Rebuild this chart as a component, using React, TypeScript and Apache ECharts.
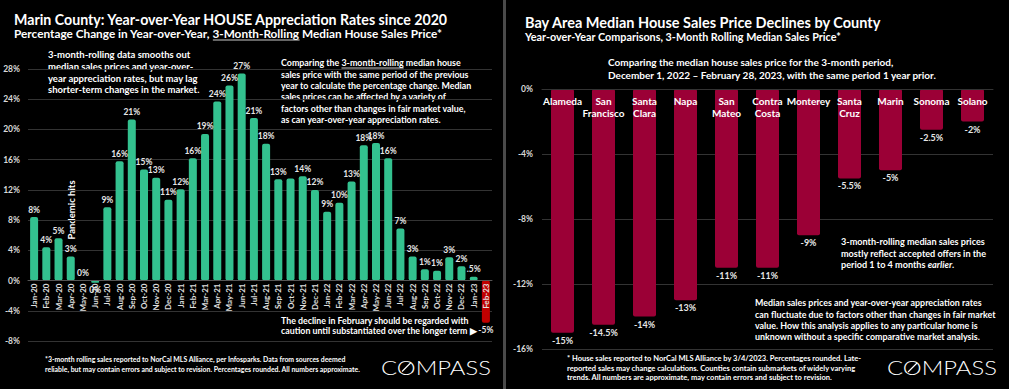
import React, { useEffect, useRef } from "react";
import * as echarts from "echarts";

const months = [
  "Jan-20","Feb-20","Mar-20","Apr-20","May-20","Jun-20","Jul-20","Aug-20","Sep-20","Oct-20","Nov-20","Dec-20",
  "Jan-21","Feb-21","Mar-21","Apr-21","May-21","Jun-21","Jul-21","Aug-21","Sep-21","Oct-21","Nov-21","Dec-21",
  "Jan-22","Feb-22","Mar-22","Apr-22","May-22","Jun-22","Jul-22","Aug-22","Sep-22","Oct-22","Nov-22","Dec-22",
  "Jan-23","Feb-23",
];
const marinYoY = [
  8.4, 4.4, 5.6, 3.2, 0, -0.3, 9.7, 15.8, 21.3, 14.7, 13.6, 10.7,
  12.1, 16.2, 19.4, 23.7, 25.8, 27.4, 21.5, 18.1, 13.4, 13.5, 13.8, 12.0,
  9.1, 10.3, 13.1, 17.9, 18.2, 16.2, 6.9, 3.2, 1.5, 1.3, 3.1, 1.9,
  0.5, -5.6,
];
const marinLabels = [
  "8%","4%","5%","3%","0%","0%","9%","16%","21%","15%","13%","11%",
  "12%","16%","19%","24%","26%","27%","21%","18%","13%","","14%","12%",
  "9%","10%","13%","18%","18%","16%","7%","3%","1%","1%","3%","2%",
  ".5%","-5%",
];
const counties = [
  "Alameda","San\nFrancisco","Santa\nClara","Napa","San\nMateo","Contra\nCosta",
  "Monterey","Santa\nCruz","Marin","Sonoma","Solano",
];
const countyChange = [-15, -14.5, -14, -13, -11, -11, -9, -5.5, -5, -2.5, -2];
const countyLabels = ["-15%","-14.5%","-14%","-13%","-11%","-11%","-9%","-5.5%","-5%","-2.5%","-2%"];

const FONT = "Lato, 'Open Sans', sans-serif";
const GREEN = "#33c18f";
const RED = "#c00000";
const CRIMSON = "#9b0036";
const GRID = "#333333";
const LEFT_GRID = { left: 28, right: 517, top: 69, bottom: 48 };
const RIGHT_GRID = { left: 542, right: 16, top: 89, bottom: 40 };

export default function App() {
  const ref = useRef<HTMLDivElement>(null);
  useEffect(() => {
    document.body.style.margin = "0";
    document.body.style.background = "#000";
    const chart = echarts.init(ref.current!, null, { renderer: "svg" });
    const cv = document.createElement("canvas").getContext("2d")!;
    const mw = (t: string, size: number, weight = "bold") => {
      cv.font = `${weight} ${size}px ${FONT}`;
      return cv.measureText(t).width;
    };

    const txt = (x: number, y: number, text: string, size: number, extra: any = {}) => ({
      type: "text",
      x,
      y,
      silent: true,
      style: {
        text,
        fill: "#ffffff",
        font: `bold ${size}px ${FONT}`,
        verticalAlign: "middle",
        align: "left",
        ...extra,
      },
    });
    const lines = (x: number, y0: number, step: number, arr: string[], size: number) =>
      arr.map((t, i) => txt(x, y0 + i * step, t, size));

    const uline = (x: number, y: number, prefix: string, word: string, size: number) => {
      const x1 = x + mw(prefix, size);
      const x2 = x1 + mw(word, size);
      return {
        type: "line",
        silent: true,
        shape: { x1, y1: y, x2, y2: y },
        style: { stroke: "#ffffff", lineWidth: 0.8 },
      };
    };

    const compass = (x: number, w: number, yc: number) => {
      const size = 20;
      const natural = mw("COMPASS", size, "300");
      const sx = w / natural;
      const cW = mw("C", size, "300") * sx;
      const oW = mw("O", size, "300") * sx;
      const ox = x + cW + oW / 2;
      return [
        {
          type: "text",
          x,
          y: yc,
          scaleX: sx,
          silent: true,
          style: {
            text: "COMPASS",
            fill: "#ffffff",
            font: `300 ${size}px ${FONT}`,
            verticalAlign: "middle",
            align: "left",
          },
        },
        {
          type: "line",
          silent: true,
          shape: { x1: ox - 4.5, y1: yc + 4.5, x2: ox + 4.5, y2: yc - 4.5 },
          style: { stroke: "#ffffff", lineWidth: 1.2 },
        },
      ];
    };

    const sub1Prefix = "Percentage Change in Year-over-Year, ";
    const box2Prefix = "Comparing the ";

    const graphic: any[] = [
      { type: "rect", silent: true, shape: { x: 503, y: 0, width: 3, height: 389 }, style: { fill: "#4a4a4a" } },
      txt(14, 19, "Marin County: Year-over-Year HOUSE Appreciation Rates since 2020", 14.2),
      txt(14, 33, sub1Prefix + "3-Month-Rolling Median House Sales Price*", 11.8),
      uline(14, 40, sub1Prefix, "3-Month-Rolling", 11.8),
      ...lines(48, 54.5, 11.8, [
        "3-month-rolling data smooths out",
        "median sales prices and year-over-",
        "year appreciation rates, but may lag",
        "shorter-term changes in the market.",
      ], 9.5),
      ...lines(281, 62.7, 11.4, [
        box2Prefix + "3-month-rolling median house",
        "sales price with the same period of the previous",
        "year to calculate the percentage change. Median",
        "sales prices can be affected by a variety of",
        "factors other than changes in fair market value,",
        "as can year-over-year appreciation rates.",
      ], 8.9),
      uline(281, 68, box2Prefix, "3-month-rolling", 8.9),
      {
        type: "text",
        x: 71.5,
        y: 210,
        rotation: Math.PI / 2,
        silent: true,
        style: {
          text: "Pandemic hits",
          fill: "#ffffff",
          font: `bold 9.5px ${FONT}`,
          align: "center",
          verticalAlign: "middle",
        },
      },
      ...lines(281, 320, 10.5, [
        "The decline in February should be regarded with",
        "caution until substantiated over the longer term \u25B6",
      ], 8.8),
      ...lines(45, 359, 9.5, [
        "*3-month rolling sales reported to NorCal MLS Alliance, per Infosparks. Data from sources deemed",
        "reliable, but may contain errors and subject to revision. Percentages rounded. All numbers approximate.",
      ], 6.9),
      ...compass(381, 110, 367),

      txt(525, 22.3, "Bay Area Median House Sales Price Declines by County", 14.5),
      txt(525, 36, "Year-over-Year Comparisons, 3-Month Rolling Median Sales Price*", 10.8),
      ...lines(608, 62.3, 12.7, [
        "Comparing the median house sales price for the 3-month period,",
        "December 1, 2022 \u2013 February 28, 2023, with the same period 1 year prior.",
      ], 10),
      ...lines(841, 241.5, 11.5, [
        "3-month-rolling median sales prices",
        "mostly reflect accepted offers in the",
      ], 9.1),
      {
        type: "text",
        x: 841,
        y: 264.5,
        silent: true,
        style: {
          text: "{n|period 1 to 4 months }{i|earlier}{n|.}",
          verticalAlign: "middle",
          align: "left",
          rich: {
            n: { fill: "#ffffff", font: `bold 9.1px ${FONT}` },
            i: { fill: "#ffffff", font: `italic bold 9.1px ${FONT}` },
          },
        },
      },
      ...lines(755, 302.7, 11.4, [
        "Median sales prices and year-over-year appreciation rates",
        "can fluctuate due to factors other than changes in fair market",
        "value. How this analysis applies to any particular home is",
        "unknown without a specific comparative market analysis.",
      ], 8.9),
      ...lines(567, 358.7, 9.5, [
        "* House sales reported to NorCal MLS Alliance by 3/4/2023. Percentages rounded. Late-",
        "reported sales may change calculations. Counties contain submarkets of widely varying",
        "trends. All numbers are approximate, may contain errors and subject to revision.",
      ], 7.5),
      ...compass(887, 110, 367.5),
    ];

    chart.setOption({
      animation: false,
      backgroundColor: "#000000",
      grid: [LEFT_GRID, RIGHT_GRID],
      xAxis: [
        {
          gridIndex: 0,
          type: "category",
          data: months,
          z: 10,
          axisLine: { onZero: false, lineStyle: { color: "#555555" } },
          axisTick: { show: false },
          axisLabel: {
            interval: 0,
            rotate: 90,
            color: "#e0e0e0",
            fontFamily: FONT,
            fontWeight: "bold",
            fontSize: 8,
            margin: 3,
          },
        },
        {
          gridIndex: 1,
          type: "category",
          data: counties,
          z: 10,
          axisLine: { onZero: false, lineStyle: { color: GRID } },
          axisTick: { show: false },
          axisLabel: {
            interval: 0,
            color: "#ffffff",
            fontFamily: FONT,
            fontWeight: "bold",
            fontSize: 10,
            lineHeight: 12,
            margin: 6,
          },
        },
      ],
      yAxis: [
        {
          gridIndex: 0,
          type: "value",
          min: -8,
          max: 28,
          interval: 4,
          axisLine: { show: false },
          axisTick: { show: false },
          splitLine: { lineStyle: { color: GRID } },
          axisLabel: {
            formatter: "{value}%",
            color: "#d9d9d9",
            fontFamily: FONT,
            fontWeight: "bold",
            fontSize: 8.5,
            margin: 8,
          },
        },
        {
          gridIndex: 1,
          type: "value",
          min: -16,
          max: 0,
          interval: 4,
          axisLine: { show: false },
          axisTick: { show: false },
          splitLine: { lineStyle: { color: GRID } },
          axisLabel: {
            formatter: "{value}%",
            color: "#d9d9d9",
            fontFamily: FONT,
            fontWeight: "bold",
            fontSize: 8.5,
            margin: 9,
          },
        },
      ],
      series: [
        {
          type: "bar",
          xAxisIndex: 0,
          yAxisIndex: 0,
          barWidth: 8,
          data: marinYoY.map((v, i) => ({
            value: v,
            itemStyle: {
              color: i === marinYoY.length - 1 ? RED : GREEN,
              borderRadius: 2,
            },
            label: { position: v < 0 ? "bottom" : "top" },
          })),
          label: {
            show: true,
            distance: 3,
            color: "#e6e6e6",
            fontFamily: FONT,
            fontWeight: "bold",
            fontSize: 8.5,
            formatter: (p: any) => marinLabels[p.dataIndex],
          },
        },
        {
          type: "bar",
          xAxisIndex: 1,
          yAxisIndex: 1,
          barWidth: 23,
          itemStyle: { color: CRIMSON, borderRadius: 2 },
          data: countyChange,
          label: {
            show: true,
            position: "bottom",
            distance: 3,
            color: "#e6e6e6",
            fontFamily: FONT,
            fontWeight: "bold",
            fontSize: 9,
            formatter: (p: any) => countyLabels[p.dataIndex],
          },
        },
      ],
      graphic,
    });

    // place each category axis on its zero line
    const h = chart.getHeight();
    const z0 = chart.convertToPixel({ yAxisIndex: 0 }, 0) as number;
    const z1 = chart.convertToPixel({ yAxisIndex: 1 }, 0) as number;
    chart.setOption({
      xAxis: [
        { offset: z0 - (h - LEFT_GRID.bottom) },
        { offset: z1 - (h - RIGHT_GRID.bottom) },
      ],
    });
    return () => chart.dispose();
  }, []);
  return <div ref={ref} style={{ width: 1009, height: 389, background: "#000" }} />;
}
